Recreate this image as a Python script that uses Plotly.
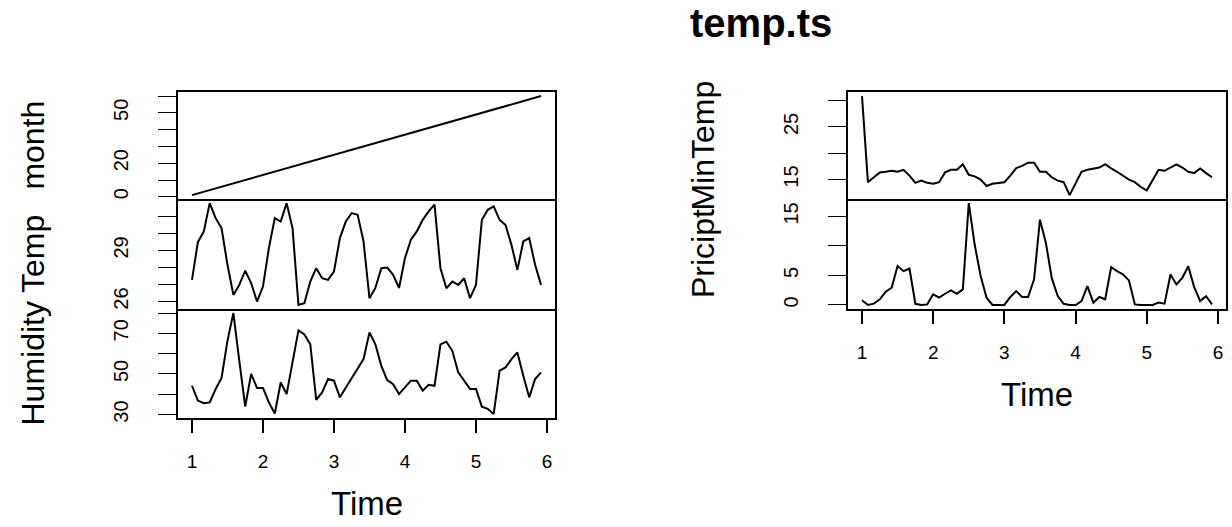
import plotly.graph_objects as go

# ---------------- data (monthly series, frequency 12, starting at time 1) ----------------
n_obs = 60
freq = 12
time = [1 + i / freq for i in range(n_obs)]

month = [1, 2, 3, 4, 5, 6, 7, 8, 9, 10, 11, 12, 13, 14, 15, 16, 17, 18, 19, 20,
         21, 22, 23, 24, 25, 26, 27, 28, 29, 30, 31, 32, 33, 34, 35, 36, 37, 38, 39, 40,
         41, 42, 43, 44, 45, 46, 47, 48, 49, 50, 51, 52, 53, 54, 55, 56, 57, 58, 59, 60]

temp = [27.27, 29.49, 30.12, 31.78, 30.9, 30.31, 28.16, 26.39, 26.98, 27.82,
        27.08, 26.0, 26.88, 29.14, 30.9, 30.7, 31.78, 30.31, 25.8, 25.9,
        27.18, 27.96, 27.37, 27.27, 27.76, 29.73, 30.7, 31.2, 31.1, 29.53,
        26.2, 26.8, 27.96, 28.0, 27.57, 26.8, 28.55, 29.63, 30.12, 30.8,
        31.3, 31.69, 27.96, 26.78, 27.18, 26.98, 27.37, 26.2, 26.98, 30.8,
        31.39, 31.59, 30.8, 30.5, 29.33, 27.86, 29.53, 29.73, 28.16, 26.98]

humidity = [44.2, 36.9, 35.6, 36.0, 42.6, 48.0, 66.3, 80.0, 56.5, 34.0,
            50.0, 43.1, 43.1, 36.0, 30.5, 45.8, 40.1, 55.6, 71.5, 69.5,
            64.6, 37.2, 40.9, 47.5, 46.7, 38.5, 43.1, 48.3, 52.4, 57.3,
            70.4, 64.6, 54.0, 47.0, 45.0, 40.1, 43.4, 46.7, 46.7, 41.8,
            44.7, 44.2, 64.6, 65.9, 61.4, 50.8, 46.7, 42.6, 42.6, 33.9,
            32.8, 30.3, 51.6, 53.2, 57.3, 60.6, 49.1, 38.5, 47.5, 50.8]

min_temp = [30.86, 14.5, 15.43, 16.36, 16.48, 16.67, 16.48, 16.85, 15.74, 14.38,
            14.8, 14.38, 14.2, 14.5, 16.36, 16.85, 16.85, 17.9, 15.9, 15.6,
            15.0, 13.77, 14.2, 14.38, 14.5, 15.74, 17.16, 17.6, 18.2, 18.2,
            16.48, 16.48, 15.43, 14.8, 14.5, 12.04, 14.2, 16.48, 16.85, 17.1,
            17.28, 17.9, 17.1, 16.48, 15.74, 15.0, 14.5, 13.58, 12.96, 15.0,
            16.85, 16.67, 17.28, 17.9, 17.28, 16.48, 16.23, 17.1, 16.23, 15.43]

pricipt = [0.79, 0.0, 0.22, 0.96, 2.25, 2.92, 6.6, 5.73, 6.18, 0.2,
           0.0, 0.1, 1.8, 1.24, 1.9, 2.47, 1.9, 2.64, 17.25, 10.2,
           4.9, 1.2, 0.0, 0.0, 0.0, 1.35, 2.36, 1.35, 1.35, 4.3,
           14.45, 10.5, 4.5, 1.5, 0.2, 0.0, 0.0, 0.67, 3.2, 0.4,
           1.35, 0.96, 6.4, 5.73, 5.17, 4.16, 0.1, 0.0, 0.0, 0.0,
           0.4, 0.22, 5.17, 3.48, 4.6, 6.57, 3.0, 0.67, 1.5, 0.1]

# tick values / labels (R drops overlapping labels)
x_tickvals = [1, 2, 3, 4, 5, 6]
x_ticktext = ["1", "2", "3", "4", "5", "6"]
month_tickvals = [0, 10, 20, 30, 40, 50, 60]
month_ticktext = ["0", "", "20", "", "", "50", ""]
temp_tickvals = [26, 27, 28, 29, 30, 31]
temp_ticktext = ["26", "", "", "29", "", ""]
hum_tickvals = [30, 40, 50, 60, 70, 80]
hum_ticktext = ["30", "", "50", "", "70", ""]
mint_tickvals = [15, 20, 25, 30]
mint_ticktext = ["15", "", "25", ""]
prec_tickvals = [0, 5, 10, 15]
prec_ticktext = ["0", "5", "", "15"]

title_text = "temp.ts"
xlab = "Time"

# ---------------- layout helpers ----------------
W, H = 1232, 527
FONT = "Liberation Sans, Arial, sans-serif"


def rrange(v):
    lo, hi = min(v), max(v)
    pad = 0.04 * (hi - lo)
    return [lo - pad, hi + pad]


def fx(px):
    return px / W


def fy(px):
    return 1 - px / H


xr = rrange(time)

left_dom = [fx(178), fx(555)]
right_dom = [fx(848), fx(1226)]
rows = [(93.0, 201.0), (201.0, 312.0), (312.0, 422.0)]


def ydom(r):
    return [fy(r[1]), fy(r[0])]


panels = [
    # (series, name, xdom, row, tickvals, ticktext, show x ticks, top panel)
    (month, "month", left_dom, rows[0], month_tickvals, month_ticktext, False, True),
    (temp, "Temp", left_dom, rows[1], temp_tickvals, temp_ticktext, False, False),
    (humidity, "Humidity", left_dom, rows[2], hum_tickvals, hum_ticktext, True, False),
    (min_temp, "MinTemp", right_dom, rows[0], mint_tickvals, mint_ticktext, False, True),
    (pricipt, "Pricipt", right_dom, rows[1], prec_tickvals, prec_ticktext, True, False),
]

fig = go.Figure()
layout = dict(
    width=W, height=H,
    margin=dict(l=0, r=0, t=0, b=0),
    paper_bgcolor="white", plot_bgcolor="white",
    showlegend=False,
    font=dict(family=FONT, color="black"),
)

annotations = []
for k, (series, name, xdom, row, tv, tt, showx, top) in enumerate(panels, start=1):
    xa = "x" if k == 1 else f"x{k}"
    ya = "y" if k == 1 else f"y{k}"
    fig.add_trace(go.Scatter(x=time, y=series, mode="lines",
                             line=dict(color="black", width=2),
                             xaxis=xa, yaxis=ya, hoverinfo="skip"))
    xkey = "xaxis" if k == 1 else f"xaxis{k}"
    ykey = "yaxis" if k == 1 else f"yaxis{k}"
    layout[xkey] = dict(
        domain=xdom, anchor=ya, range=xr,
        showgrid=False, zeroline=False,
        showline=True, mirror=top, linecolor="black", linewidth=1.5,
        tickmode="array", tickvals=x_tickvals, ticktext=x_ticktext,
        ticks="outside" if showx else "", ticklen=13, tickwidth=1.5, tickcolor="black",
        showticklabels=showx, ticklabelstandoff=12,
        tickfont=dict(family=FONT, size=19, color="black"),
    )
    layout[ykey] = dict(
        domain=ydom(row), anchor=xa, range=rrange(series),
        showgrid=False, zeroline=False,
        showline=True, mirror=True, linecolor="black", linewidth=1.5,
        tickmode="array", tickvals=tv, ticktext=tt,
        ticks="outside", ticklen=18, tickwidth=1.2, tickcolor="black",
        tickangle=-90, ticklabelstandoff=22,
        tickfont=dict(family=FONT, size=20, color="black"),
    )
    # panel y-label, centered on panel, rotated
    xl = xdom[0] - fx(145)
    annotations.append(dict(
        text=name, textangle=-90, xref="paper", yref="paper",
        x=xl, y=(ydom(row)[0] + ydom(row)[1]) / 2,
        xanchor="center", yanchor="middle", showarrow=False,
        font=dict(family=FONT, size=32, color="black"),
    ))
    if showx:
        annotations.append(dict(
            text=xlab, xref="paper", yref="paper",
            x=(xdom[0] + xdom[1]) / 2, y=fy(row[1] + 86),
            xanchor="center", yanchor="middle", showarrow=False,
            font=dict(family=FONT, size=33, color="black"),
        ))

annotations.append(dict(
    text="<b>" + title_text + "</b>", xref="paper", yref="paper",
    x=fx(761), y=fy(23), xanchor="center", yanchor="middle", showarrow=False,
    font=dict(family=FONT, size=40, color="black"),
))
layout["annotations"] = annotations
fig.update_layout(**layout)

fig.write_html("out.html")
